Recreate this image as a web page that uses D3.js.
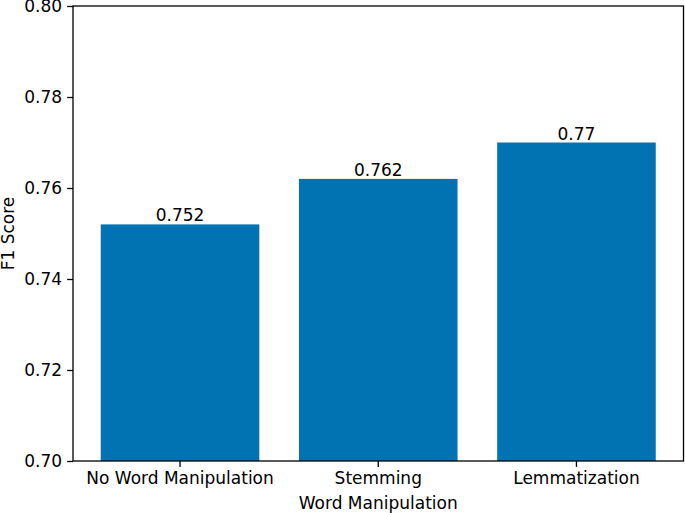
<!DOCTYPE html>
<html>
<head>
<meta charset="utf-8">
<script src="https://cdn.jsdelivr.net/npm/d3@7"></script>
<style>
  body { margin: 0; background: #fff; }
  text { font-family: "DejaVu Sans", sans-serif; fill: #000; }
</style>
</head>
<body>
<div id="chart"></div>
<script>
// data
const categories = ["No Word Manipulation", "Stemming", "Lemmatization"];
const f1Scores = [0.752, 0.762, 0.77];
const yTicks = [0.70, 0.72, 0.74, 0.76, 0.78, 0.80];

const width = 685, height = 513;
const margin = { top: 6, right: 1.5, bottom: 52, left: 73 };
const fontSize = 17;

let svg = d3.select('#chart')
  .append('svg')
  .attr('width', width)
  .attr('height', height);

let plotW = width - margin.left - margin.right;
let plotH = height - margin.top - margin.bottom;

let g = svg.append('g')
  .attr('transform', "translate(" + margin.left + "," + margin.top + ")");

let x = d3.scaleBand()
  .domain(categories)
  .range([0, plotW])
  .paddingInner(0.2)
  .paddingOuter(0.14);

let y = d3.scaleLinear()
  .domain([0.70, 0.80])
  .range([plotH, 0]);

// bars
g.selectAll('rect.bar')
  .data(categories)
  .enter().append('rect')
  .attr('class', 'bar')
  .attr('x', d => x(d))
  .attr('width', x.bandwidth())
  .attr('y', (d, i) => y(f1Scores[i]))
  .attr('height', (d, i) => plotH - y(f1Scores[i]))
  .style('fill', '#0173b2');

// value labels
g.selectAll('text.value')
  .data(categories)
  .enter().append('text')
  .attr('class', 'value')
  .attr('x', d => x(d) + x.bandwidth() / 2)
  .attr('y', (d, i) => y(f1Scores[i]) - 3)
  .attr('text-anchor', 'middle')
  .style('font-size', fontSize + 'px')
  .text((d, i) => String(f1Scores[i]));

// axes
let xAxis = g.append('g')
  .attr('transform', "translate(0," + plotH + ")")
  .call(d3.axisBottom(x).tickSize(5.9).tickSizeOuter(0).tickPadding(5));

let yAxis = g.append('g')
  .call(d3.axisLeft(y).tickValues(yTicks).tickFormat(d3.format('.2f'))
    .tickSize(5.9).tickSizeOuter(0).tickPadding(5));

[xAxis, yAxis].forEach(a => {
  a.select('.domain').remove();
  a.selectAll('line').attr('stroke', '#000').attr('stroke-width', 1.3);
  a.selectAll('text')
    .style('font-size', fontSize + 'px')
    .style('font-family', '"DejaVu Sans", sans-serif');
});
xAxis.selectAll('text').attr('dy', '0.71em');
yAxis.selectAll('text').attr('dy', '0.35em');

// frame
g.append('rect')
  .attr('width', plotW)
  .attr('height', plotH)
  .attr('fill', 'none')
  .attr('stroke', '#000')
  .attr('stroke-width', 1.3);

// axis titles
svg.append('text')
  .attr('x', margin.left + plotW / 2)
  .attr('y', height - 4)
  .attr('text-anchor', 'middle')
  .style('font-size', fontSize + 'px')
  .text('Word Manipulation');

svg.append('text')
  .attr('transform', "translate(14," + (margin.top + plotH / 2) + ") rotate(-90)")
  .attr('text-anchor', 'middle')
  .style('font-size', fontSize + 'px')
  .text('F1 Score');
</script>
</body>
</html>
